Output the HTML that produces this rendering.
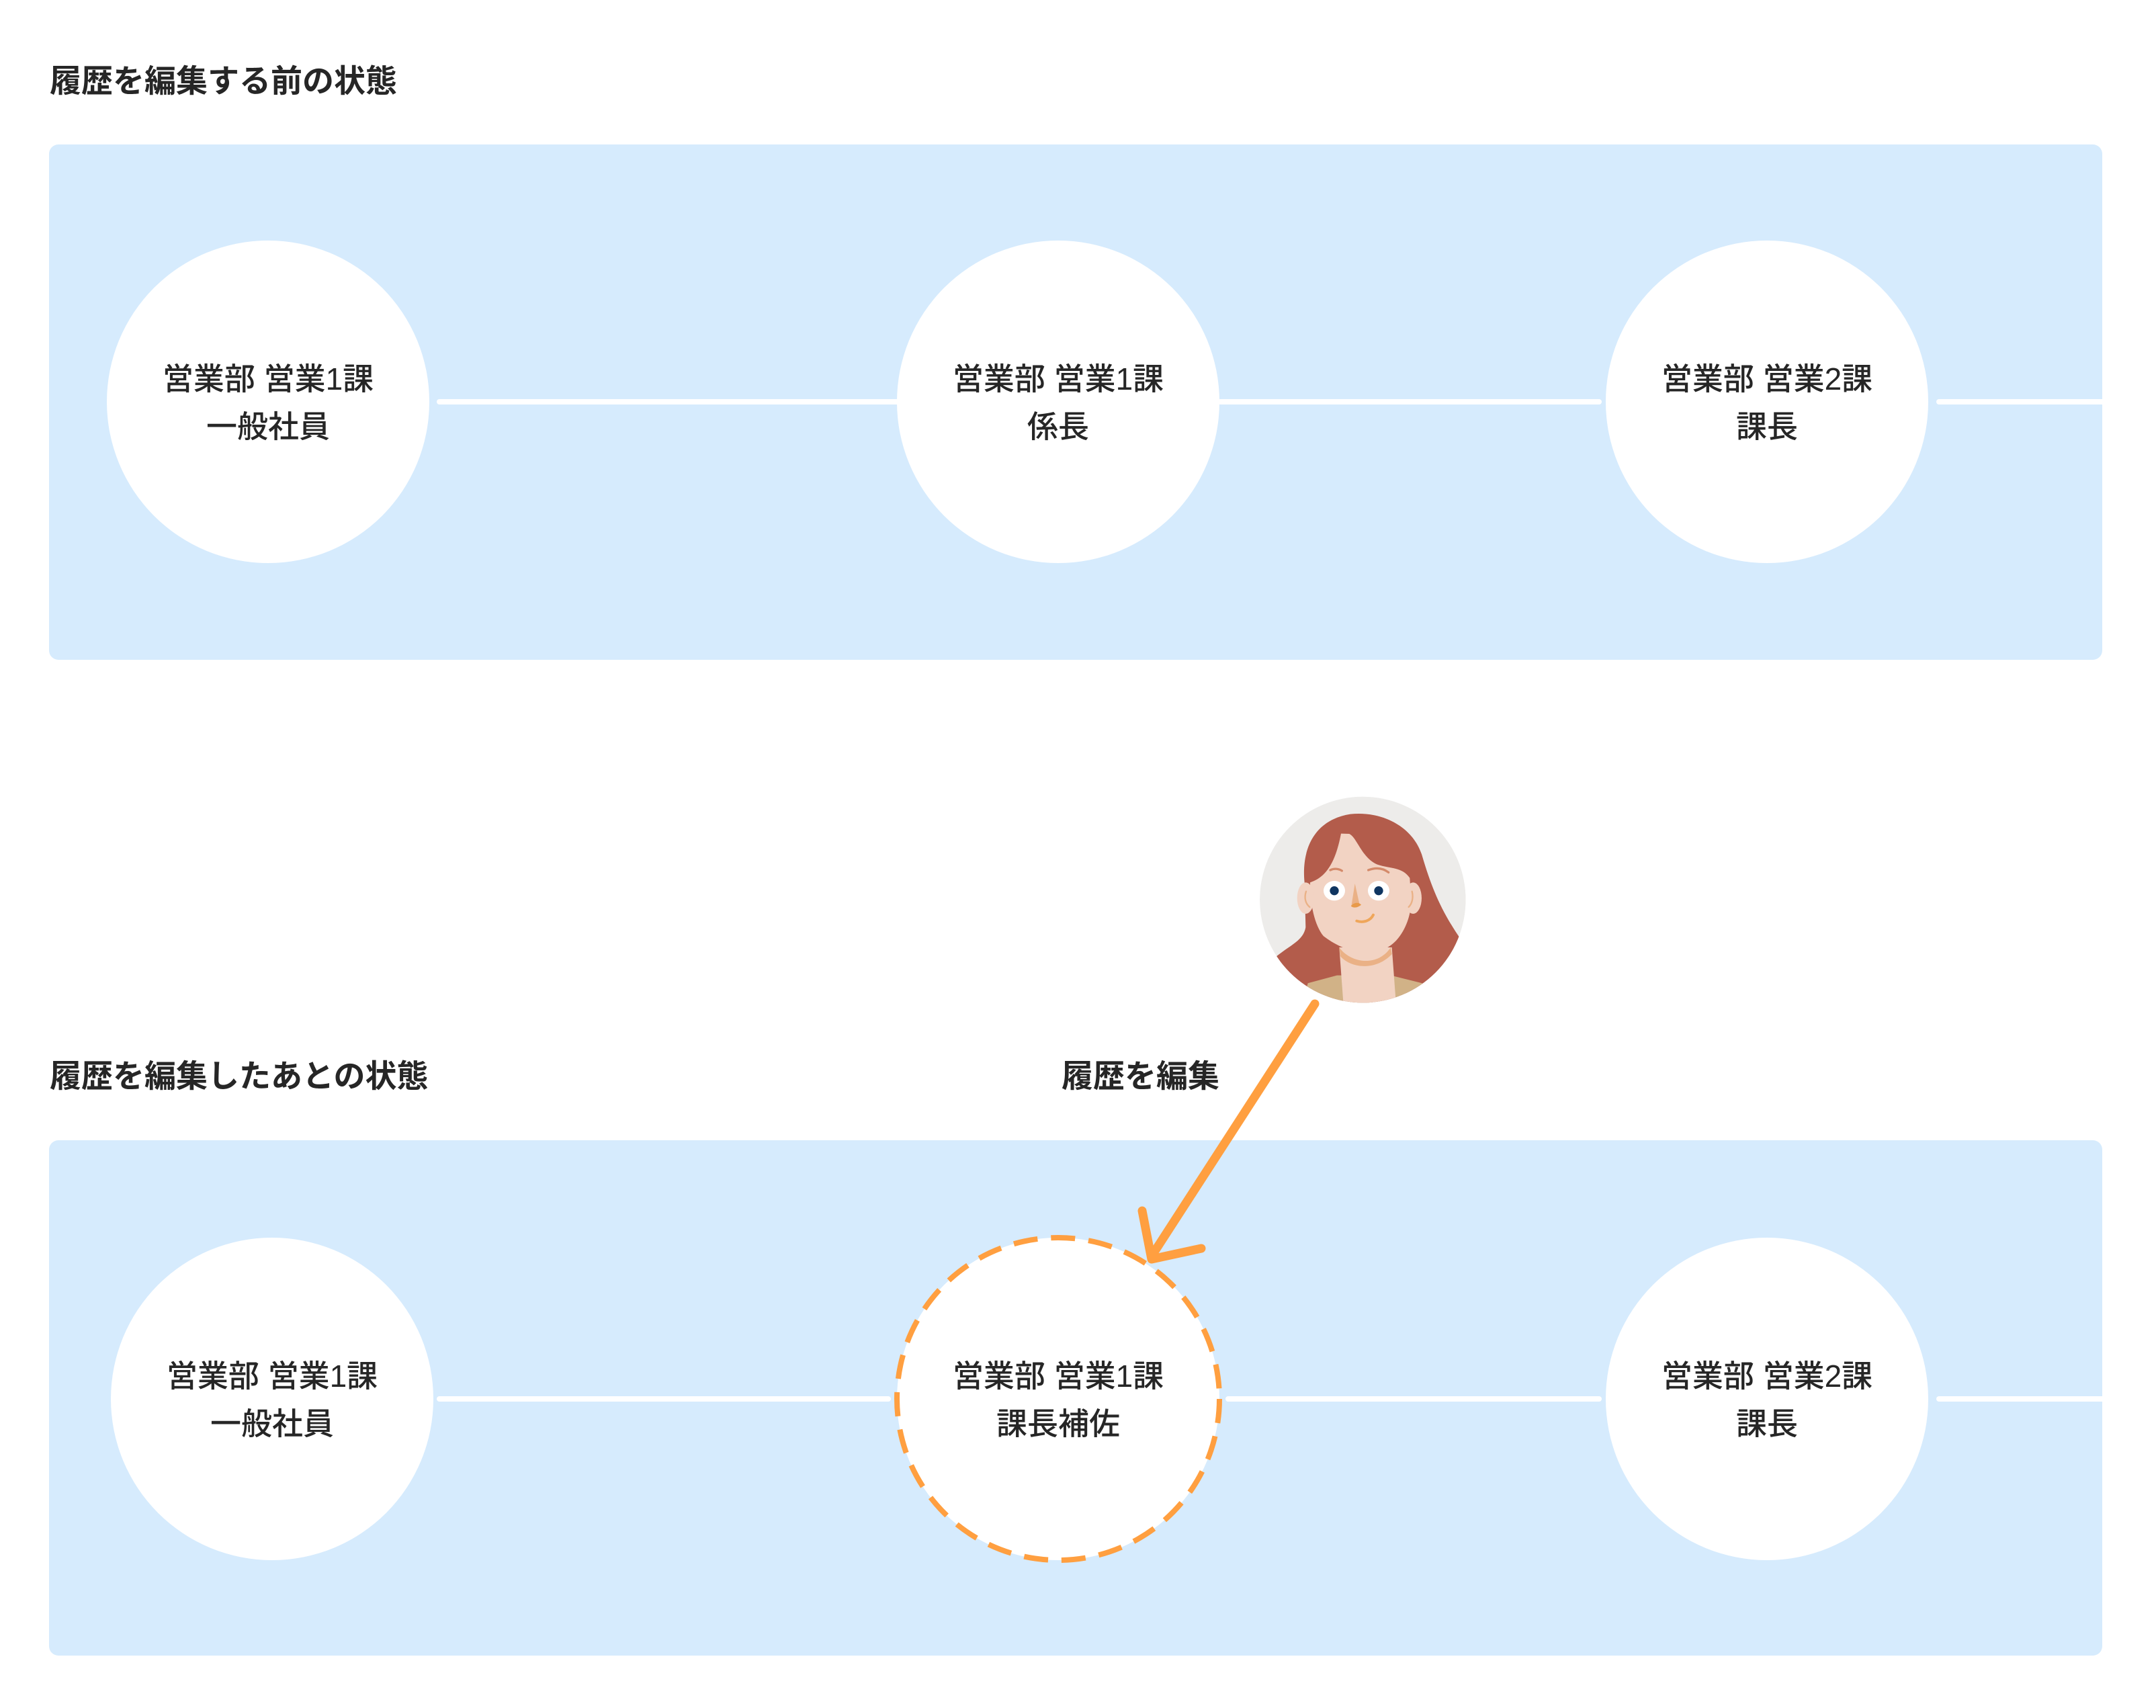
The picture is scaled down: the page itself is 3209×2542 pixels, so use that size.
<!DOCTYPE html>
<html><head><meta charset="utf-8"><style>
html,body{margin:0;padding:0;background:#fff;}
svg{display:block;}
text{font-family:"Liberation Sans","Noto Sans CJK JP",sans-serif;fill:#262626;}
</style></head><body>
<svg width="3209" height="2542" viewBox="0 0 3209 2542" xmlns="http://www.w3.org/2000/svg">
<rect width="3209" height="2542" fill="#fff"/>
<text x="74" y="137" font-size="47" font-weight="bold">履歴を編集する前の状態</text>
<rect x="73" y="215" width="3056" height="767" rx="14" fill="#D6EBFD"/>
<g stroke="#fff" stroke-width="8" stroke-linecap="round">
<line x1="654" y1="598" x2="1335" y2="598"/>
<line x1="1816" y1="598" x2="2380" y2="598"/>
<line x1="2886" y1="598" x2="3129" y2="598"/>
</g>
<circle cx="399" cy="598" r="240" fill="#fff"/>
<circle cx="1575" cy="598" r="240" fill="#fff"/>
<circle cx="2630" cy="598" r="240" fill="#fff"/>
<g font-size="46" text-anchor="middle" font-weight="500">
<text x="399" y="580">営業部 営業1課</text><text x="399" y="651">一般社員</text>
<text x="1575" y="580">営業部 営業1課</text><text x="1575" y="651">係長</text>
<text x="2630" y="580">営業部 営業2課</text><text x="2630" y="651">課長</text>
</g>

<text x="74" y="1618" font-size="47" font-weight="bold">履歴を編集したあとの状態</text>
<text x="1580" y="1618" font-size="47" font-weight="bold">履歴を編集</text>
<rect x="73" y="1697" width="3056" height="767" rx="14" fill="#D6EBFD"/>
<g stroke="#fff" stroke-width="8" stroke-linecap="round">
<line x1="654" y1="2082" x2="1322" y2="2082"/>
<line x1="1828" y1="2082" x2="2380" y2="2082"/>
<line x1="2886" y1="2082" x2="3129" y2="2082"/>
</g>
<circle cx="405" cy="2082" r="240" fill="#fff"/>
<circle cx="1575" cy="2082" r="240" fill="#fff" stroke="#FF9F40" stroke-width="8" stroke-dasharray="36 20"/>
<circle cx="2630" cy="2082" r="240" fill="#fff"/>
<g font-size="46" text-anchor="middle" font-weight="500">
<text x="405" y="2064">営業部 営業1課</text><text x="405" y="2135">一般社員</text>
<text x="1575" y="2064">営業部 営業1課</text><text x="1575" y="2135">課長補佐</text>
<text x="2630" y="2064">営業部 営業2課</text><text x="2630" y="2135">課長</text>
</g>

<defs><clipPath id="av"><circle cx="475" cy="477" r="460"/></clipPath></defs>
<g transform="translate(1870,1180) scale(0.3333)">
<g clip-path="url(#av)">
<circle cx="475" cy="477" r="460" fill="#EDECEA"/>
<path d="M215,400 C200,250 260,120 420,95 C560,80 700,150 740,280 C790,450 840,560 960,720 L960,960 L60,960 L90,730 C150,680 210,660 220,600 Z" fill="#B35C4B"/>
<path d="M230,850 L360,815 L600,815 L740,850 L760,960 L200,960 Z" fill="#D1B287"/>
<path d="M370,690 L605,690 L625,960 L390,960 Z" fill="#F2D3C3"/>
<path d="M370,690 C420,760 540,780 600,690 L605,720 C540,790 430,790 375,730 Z" fill="#EAB186"/>
<path d="M378,182 L415,183 C450,200 470,290 540,320 C600,340 650,330 685,380 L690,460 C700,560 640,680 560,700 C470,730 380,700 300,640 C260,590 240,500 240,400 C300,380 350,330 378,182 Z" fill="#F2D3C3"/>
<ellipse cx="220" cy="470" rx="38" ry="70" fill="#F2D3C3"/>
<ellipse cx="700" cy="470" rx="38" ry="70" fill="#F2D3C3"/>
<path d="M222,440 C212,470 220,495 238,510" stroke="#EAB186" stroke-width="7" fill="none" stroke-linecap="round"/>
<path d="M695,440 C702,470 695,495 680,510" stroke="#EAB186" stroke-width="7" fill="none" stroke-linecap="round"/>
<path d="M330,345 C350,335 370,340 382,348" stroke="#D48A6A" stroke-width="10" fill="none" stroke-linecap="round"/>
<path d="M500,345 C540,330 570,340 590,355" stroke="#D48A6A" stroke-width="10" fill="none" stroke-linecap="round"/>
<ellipse cx="348" cy="437" rx="48" ry="44" fill="#fff"/>
<ellipse cx="546" cy="437" rx="48" ry="44" fill="#fff"/>
<circle cx="348" cy="437" r="20" fill="#0F3560"/>
<circle cx="546" cy="437" r="20" fill="#0F3560"/>
<path d="M440,405 L460,495 L425,500 Z" fill="#EAB186"/>
<path d="M422,505 C440,485 460,490 468,500 C450,515 432,515 422,505 Z" fill="#E89A4A"/>
<path d="M448,572 C480,582 510,570 522,545" stroke="#EFA65A" stroke-width="12" fill="none" stroke-linecap="round"/>
</g></g>

<g stroke="#FF9F40" stroke-width="13" stroke-linecap="round" stroke-linejoin="round" fill="none">
<line x1="1957" y1="1494" x2="1715" y2="1868"/>
<polyline points="1700,1802 1714,1874 1788,1858"/>
</g>
</svg>
</body></html>
